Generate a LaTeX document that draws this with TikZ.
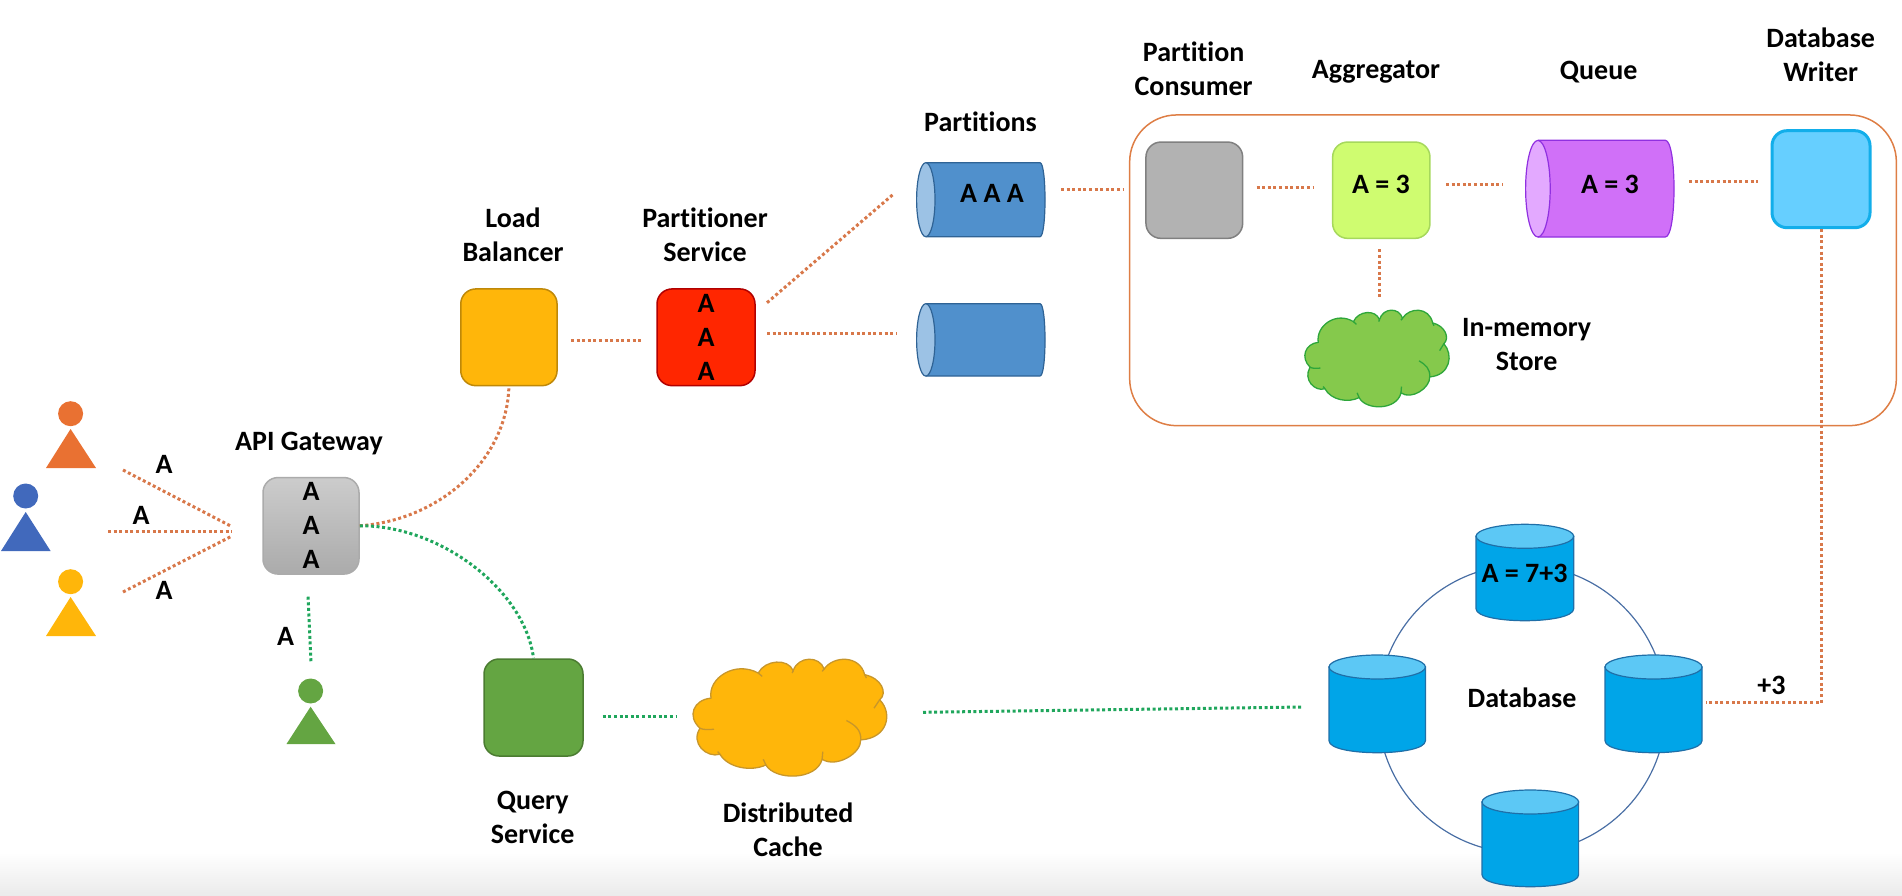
\documentclass[tikz,border=0pt]{standalone}
\usepackage{fontspec}
\setmainfont{Carlito}[Ligatures=NoCommon]
\definecolor{cOr}{HTML}{D8784A}
\definecolor{cGr}{HTML}{1FA65C}
\tikzset{
  conO/.style={draw=cOr,line width=3pt,dash pattern=on 3pt off 2.6pt},
  conG/.style={draw=cGr,line width=3pt,dash pattern=on 3pt off 2.6pt},
  lbl/.style={font=\bfseries\fontsize{28}{34}\selectfont,align=center,inner sep=0pt,text=black},
  rbox/.style={rounded corners=15pt,line width=1.5pt,inner sep=0pt,align=center,font=\bfseries\fontsize{28}{34}\selectfont},
  head/.style={circle,inner sep=0pt,minimum size=25pt}
}
% name x1 y1 x2 y2 rxcap rxbody fill line
\newcommand\hcyl[9]{%
  \def\cxa{#2}\def\cya{#3}\def\cxb{#4}\def\cyb{#5}\def\crc{#6}\def\crb{#7}%
  \pgfmathsetmacro\cxs{\cxa+\crc}\pgfmathsetmacro\cxe{\cxb-\crb}%
  \pgfmathsetmacro\cxk{\cxe+1.333*\crb}%
  \fill[#8] (\cxs,\cya) -- (\cxe,\cya) .. controls (\cxk,\cya) and (\cxk,\cyb) .. (\cxe,\cyb) -- (\cxs,\cyb) -- cycle;
  \draw[#9,line width=1.2pt] (\cxs,\cya) -- (\cxe,\cya) .. controls (\cxk,\cya) and (\cxk,\cyb) .. (\cxe,\cyb) -- (\cxs,\cyb);
}
\newcommand\capfill[6]{% xc yc rx ry fill line
  \filldraw[fill=#5,draw=#6,line width=1.2pt] (#1,#2) ellipse [x radius=#3,y radius=#4];
}
% name x1 y1 x2 y2
\newcommand\vcyl[5]{%
  \def\cxa{#2}\def\cya{#3}\def\cxb{#4}\def\cyb{#5}%
  \pgfmathsetmacro\cys{\cya+12}\pgfmathsetmacro\cye{\cyb-12}\pgfmathsetmacro\cyk{\cye+16}%
  \pgfmathsetmacro\cxm{(\cxa+\cxb)/2}\pgfmathsetmacro\cym{(\cya+\cyb)/2}%
  \pgfmathsetmacro\crx{(\cxb-\cxa)/2}\pgfmathsetmacro\cww{\cxb-\cxa}\pgfmathsetmacro\chh{\cyb-\cya}%
  \filldraw[fill=dbBody,draw=dbLine,line width=1.2pt] (\cxa,\cys) -- (\cxa,\cye) .. controls (\cxa,\cyk) and (\cxb,\cyk) .. (\cxb,\cye) -- (\cxb,\cys) -- cycle;
  \filldraw[fill=dbCap,draw=dbLine,line width=1.2pt] (\cxm,\cys) ellipse [x radius=\crx,y radius=12];
  \node[inner sep=0pt,minimum width=\cww pt,minimum height=\chh pt] (#1) at (\cxm,\cym) {};
}
% name x y w h fill line
\newcommand\cloudshape[7]{%
  \begin{scope}[shift={(#2,#3)},x={#4pt/584},y={-#5pt/350}]
  \begin{scope}[shift={(-23,-28)}]
    \filldraw[fill=#6,draw=#7,line width=1.3pt] (78,145)
      .. controls (68,85) and (150,32) .. (220,70)
      .. controls (240,30) and (310,25) .. (325,63)
      .. controls (340,18) and (405,18) .. (418,58)
      .. controls (445,18) and (525,15) .. (540,75)
      .. controls (590,85) and (610,130) .. (585,150)
      .. controls (625,190) and (610,265) .. (528,270)
      .. controls (530,310) and (455,355) .. (412,328)
      .. controls (395,392) and (270,392) .. (243,345)
      .. controls (200,365) and (130,355) .. (105,313)
      .. controls (65,325) and (15,280) .. (45,235)
      .. controls (5,200) and (25,150) .. (78,145) -- cycle;
    \draw[#7,line width=1.3pt] (220,70) -- (232,80) (325,63) -- (322,70) (418,58) -- (412,65)
      (540,75) -- (545,85) (585,150) -- (568,175)
      (528,270) .. controls (530,240) and (510,225) .. (485,212)
      (412,328) -- (414,305) (243,345) -- (235,328) (105,313) -- (98,305)
      (45,235) .. controls (55,240) and (70,240) .. (87,238);
    \coordinate (#1) at (315,203);
  \end{scope}
  \end{scope}
}
\begin{document}
\begin{tikzpicture}[x=1pt,y=-1pt]
\definecolor{dbBody}{HTML}{00A5E8}
\definecolor{dbCap}{HTML}{5CC8F5}
\definecolor{dbLine}{HTML}{1F6FA8}
\useasboundingbox (0,0) rectangle (1902,896);
\shade[top color=white,bottom color=black!8] (0,852) rectangle (1902,896);

% people
\definecolor{pO}{HTML}{E97132}\definecolor{pB}{HTML}{4169BC}\definecolor{pY}{HTML}{FFB60A}\definecolor{pG}{HTML}{64A542}
\definecolor{psF}{HTML}{FF2600}
\node[head,fill=pO] (h1) at (70.6,413.7) {};
\fill[pO] (70.6,429) -- (96,468) -- (46,468) -- cycle;
\node[head,fill=pB] (h2) at (25.7,496) {};
\fill[pB] (25.7,512) -- (50.6,551) -- (1,551) -- cycle;
\node[head,fill=pY] (h3) at (70.6,581.7) {};
\fill[pY] (70.6,597) -- (96,636) -- (46,636) -- cycle;
\node[head,fill=pG] (h4) at (310.6,691) {};
\fill[pG] (310.6,706.7) -- (335.5,744) -- (286.5,744) -- cycle;

% boxes
\node[rbox,draw=black!33,top color=black!20,bottom color=black!33,minimum width=96pt,minimum height=96.5pt] (gw) at (311,525.8) {A\\A\\A};
\node[rbox,draw=black!25!pY,fill=pY,minimum width=96.3pt,minimum height=96.7pt] (lb) at (508.9,337.3) {};
\node[rbox,draw=red!70!black,fill=psF,minimum width=98pt,minimum height=96.7pt] (ps) at (706,337.3) {A\\A\\A};
\node[rbox,draw=pG!75!black,fill=pG,minimum width=99pt,minimum height=97pt] (qs) at (533.5,707.5) {};
\node[rbox,draw=black!50,fill=black!30,minimum width=96.7pt,minimum height=96.3pt] (pc) at (1194.3,190.2) {};
\definecolor{agF}{HTML}{CFFC70}\definecolor{agL}{HTML}{A6D85C}
\node[rbox,draw=agL,fill=agF,minimum width=97.3pt,minimum height=96.3pt] (ag) at (1381.3,190.2) {};
\definecolor{wrF}{HTML}{66CFFF}\definecolor{wrL}{HTML}{12AEEA}
\node[rbox,draw=wrL,line width=3pt,fill=wrF,minimum width=98pt,minimum height=97pt] (wr) at (1821,179.2) {};
\definecolor{bigL}{HTML}{DE7E45}
\node[draw=bigL,line width=1.5pt,rounded corners=47pt,inner sep=0pt,minimum width=766.7pt,minimum height=310.7pt] (grp) at (1513,270.3) {};

% horizontal cylinders
\definecolor{paF}{HTML}{5090CC}\definecolor{paC}{HTML}{9CC2E5}\definecolor{paL}{HTML}{2F6395}
\hcyl{p1}{916.6}{162.7}{1045}{236.7}{9.2}{5}{paF}{paL}
\node[inner sep=0pt,minimum width=128pt,minimum height=74pt] (p1) at (980.8,199.7) {};
\capfill{925.8}{199.7}{9.2}{37}{paC}{paL}
\hcyl{p2}{916.6}{303.7}{1045}{376}{9.2}{5}{paF}{paL}
\node[inner sep=0pt,minimum width=128pt,minimum height=72pt] (p2) at (980.8,339.9) {};
\capfill{925.8}{339.9}{9.2}{36.2}{paC}{paL}
\definecolor{quF}{HTML}{D070F8}\definecolor{quC}{HTML}{E3A9FF}\definecolor{quL}{HTML}{9030E0}
\hcyl{qu}{1525.6}{140.3}{1674}{237}{12.3}{8.7}{quF}{quL}
\node[inner sep=0pt,minimum width=148pt,minimum height=96pt] (qu) at (1599.8,188.7) {};
\capfill{1537.9}{188.7}{12.3}{48.3}{quC}{quL}

% clouds
\definecolor{caF}{HTML}{FFB60A}\definecolor{caL}{HTML}{C8962A}
\cloudshape{ca}{692.7}{659}{194.3}{117}{caF}{caL}
\definecolor{imF}{HTML}{85C94C}\definecolor{imL}{HTML}{2EA63A}
\cloudshape{im}{1304.6}{310}{144.7}{96.7}{imF}{imL}

% database ring
\definecolor{ringL}{HTML}{4A6FA5}
\node[circle,draw=ringL,line width=1.2pt,inner sep=0pt,minimum size=288pt] (ring) at (1522,709) {};
\vcyl{dbt}{1476}{524.3}{1573.7}{620.7}
\vcyl{dbl}{1329}{655}{1425.4}{752.7}
\vcyl{dbr}{1605}{655}{1702}{752.7}
\vcyl{dbb}{1482}{790}{1578.6}{886.7}

% free ends of connectors
\coordinate (a1) at (123,470); \coordinate (a2) at (108,531); \coordinate (a3) at (123,592);
\coordinate (fan1) at (232,526.7); \coordinate (fan2) at (232,531); \coordinate (fan3) at (232,536);
\coordinate (u1) at (308,596.7); \coordinate (u2) at (311,663);
\coordinate (l1) at (571,340.7); \coordinate (l2) at (643,340.7);
\coordinate (s1) at (767,302.7); \coordinate (s2) at (893.6,194);
\coordinate (t1) at (767,333.3); \coordinate (t2) at (896,333.3);
\coordinate (v1) at (1061,189.3); \coordinate (v2) at (1124,189.3);
\coordinate (w1) at (1256.5,187.7); \coordinate (w2) at (1314,187.7);
\coordinate (x1) at (1446,184.7); \coordinate (x2) at (1503,184.7);
\coordinate (y1) at (1689,181.7); \coordinate (y2) at (1758,181.7);
\coordinate (z1) at (1379,249.3); \coordinate (z2) at (1379,299);
\coordinate (bend) at (1821,702.7); \coordinate (dbin) at (1705.5,702.7);
\coordinate (q1) at (602.7,716); \coordinate (q2) at (676,716);
\coordinate (c1) at (923,712.3); \coordinate (c2) at (1303,707);

\draw[conO] (a1) -- (fan1);
\draw[conO] (a2) -- (fan2);
\draw[conO] (a3) -- (fan3);
\draw[conO] (gw.east) .. controls (440,520) and (507,460) .. (lb.south);
\draw[conG] (gw.east) .. controls (440,525) and (525,590) .. (qs.north);
\draw[conG] (u1) -- (u2);
\draw[conO] (l1) -- (l2);
\draw[conO] (s1) -- (s2);
\draw[conO] (t1) -- (t2);
\draw[conO] (v1) -- (v2);
\draw[conO] (w1) -- (w2);
\draw[conO] (x1) -- (x2);
\draw[conO] (y1) -- (y2);
\draw[conO] (z1) -- (z2);
\draw[conO] (wr.south) -- (bend) -- (dbin);
\draw[conG] (q1) -- (q2);
\draw[conG] (c1) -- (c2);

% labels
\node[lbl] (tA1) at (164,464) {A};
\node[lbl] (tA2) at (141,515) {A};
\node[lbl] (tA3) at (164,590) {A};
\node[lbl] (tA4) at (285.7,636) {A};
\node[lbl] (tgw) at (309,444) {API Gateway};
\node[lbl] (tlb) at (513,234.6) {Load\\Balancer};
\node[lbl] (tps) at (705,234.6) {Partitioner\\Service};
\node[lbl] (tpa) at (980.5,121.5) {Partitions};
\node[lbl] (taaa) at (992,193) {A A A};
\node[lbl] (tpc) at (1193.6,69) {Partition\\Consumer};
\node[lbl] (tag) at (1376,71.7) {Aggregator};
\node[lbl] (tqu) at (1598.7,71.7) {Queue};
\node[lbl] (tdw) at (1820.7,54.7) {Database\\Writer};
\node[lbl] (ta3) at (1381,184.3) {A = 3};
\node[lbl] (tq3) at (1610,184.3) {A = 3};
\node[lbl] (tim) at (1526.6,345) {In-memory\\Store};
\node[lbl] (tqs) at (532.7,817) {Query\\Service};
\node[lbl] (tca) at (788,829.3) {Distributed\\Cache};
\node[lbl] (tdb) at (1522,697.3) {Database};
\node[lbl] (t73) at (1524.5,573.3) {A = 7+3};
\node[lbl] (tp3) at (1771.5,685) {+3};
\end{tikzpicture}
\end{document}
